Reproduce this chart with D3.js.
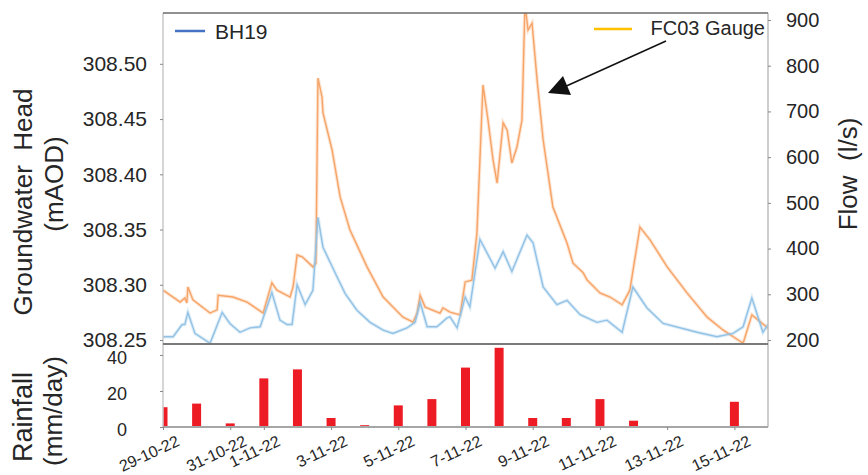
<!DOCTYPE html>
<html>
<head>
<meta charset="utf-8">
<script src="https://cdn.jsdelivr.net/npm/d3@7"></script>
<style>
  body { margin: 0; background: #fff; }
  svg text { font-family: "Liberation Sans", Arial, sans-serif; fill: #262626; }
</style>
</head>
<body>
<svg id="chart" width="868" height="475"></svg>
<script>
// days since 29-10-22 00:00 and head (mAOD) for BH19
var bhDay = [0, 0.30, 0.57, 0.65, 0.74, 0.95, 1.40, 1.76, 1.99, 2.29, 2.59, 2.89, 3.24, 3.48, 3.69, 3.84, 3.99, 4.23, 4.46, 4.61, 4.76, 5.18, 5.42, 5.77, 6.16, 6.55, 6.84, 7.26, 7.50, 7.65, 7.86, 8.15, 8.45, 8.54, 8.75, 8.99, 9.13, 9.43, 9.88, 10.12, 10.38, 10.83, 11.01, 11.31, 11.72, 12.02, 12.41, 12.91, 13.21, 13.66, 13.98, 14.40, 14.88, 15.89, 16.48, 16.96, 17.26, 17.52, 17.85, 18.0];
var bhHead = [308.253, 308.253, 308.264, 308.264, 308.275, 308.256, 308.247, 308.275, 308.265, 308.257, 308.261, 308.262, 308.293, 308.268, 308.264, 308.264, 308.300, 308.282, 308.295, 308.361, 308.334, 308.307, 308.292, 308.277, 308.266, 308.259, 308.256, 308.261, 308.266, 308.284, 308.262, 308.262, 308.270, 308.271, 308.261, 308.289, 308.280, 308.341, 308.315, 308.330, 308.312, 308.345, 308.338, 308.298, 308.282, 308.286, 308.273, 308.266, 308.268, 308.257, 308.298, 308.279, 308.265, 308.257, 308.253, 308.256, 308.262, 308.288, 308.257, 308.264];

// days since 29-10-22 00:00 and flow (l/s) for FC03 Gauge
var fcDay = [0, 0.51, 0.65, 0.71, 0.74, 0.89, 1.40, 1.61, 1.64, 2.08, 2.50, 2.98, 3.24, 3.39, 3.78, 3.87, 3.99, 4.14, 4.46, 4.55, 4.61, 4.73, 4.76, 5.03, 5.27, 5.56, 6.07, 6.55, 7.14, 7.44, 7.56, 7.65, 7.80, 8.24, 8.33, 8.54, 8.84, 8.99, 9.19, 9.34, 9.52, 9.67, 9.82, 9.94, 10.12, 10.24, 10.38, 10.53, 10.68, 10.77, 10.86, 10.98, 11.13, 11.31, 11.60, 12.02, 12.20, 12.50, 12.62, 13.00, 13.30, 13.66, 13.89, 14.19, 14.49, 15.00, 15.59, 16.19, 16.66, 17.11, 17.26, 17.52, 18.0];
var fcFlow = [309, 283, 292, 281, 316, 288, 259, 266, 298, 294, 283, 259, 325, 309, 294, 316, 386, 382, 360, 368, 773, 732, 697, 616, 513, 441, 360, 294, 250, 239, 259, 298, 272, 259, 270, 261, 255, 327, 331, 434, 758, 681, 594, 543, 675, 659, 587, 622, 681, 935, 878, 893, 769, 638, 491, 412, 368, 347, 331, 303, 294, 277, 309, 447, 419, 360, 303, 250, 222, 200, 193, 255, 226];

// daily rainfall (mm/day)
var rainDates = ["29-10-22", "30-10-22", "31-10-22", "1-11-22", "2-11-22", "3-11-22", "4-11-22", "5-11-22", "6-11-22", "7-11-22", "8-11-22", "9-11-22", "10-11-22", "11-11-22", "12-11-22", "13-11-22", "14-11-22", "15-11-22", "16-11-22"];
var rainMm = [11, 13, 2, 27, 32, 5, 1, 12, 15.5, 33, 44, 5, 5, 15.5, 3.5, 0, 0.5, 14, 0.5];

var tickDates = ["29-10-22", "31-10-22", "1-11-22", "3-11-22", "5-11-22", "7-11-22", "9-11-22", "11-11-22", "13-11-22", "15-11-22"];
var headTicks = [308.25, 308.30, 308.35, 308.40, 308.45, 308.50];
var flowTicks = [200, 300, 400, 500, 600, 700, 800, 900];
var rainTicks = [0, 20, 40];

var parseDay = function(s) {
    var p = s.split("-");
    return new Date(Date.UTC(2000 + +p[2], +p[1] - 1, +p[0]));
};
var start = parseDay("29-10-22");
var fromDay = function(d) { return new Date(start.getTime() + d * 864e5); };

var left = 163, right = 768, top1 = 13, bot1 = 344, bot2 = 427;

var svg = d3.select("#chart");

var x = d3.scaleUtc()
    .domain([start, parseDay("16-11-22")])
    .range([left, right]);

var yHead = d3.scaleLinear().domain([308.2464, 308.546]).range([bot1, top1]);
var yFlow = d3.scaleLinear().domain([191.25, 915.3]).range([bot1, top1]);
var yRain = d3.scaleLinear().domain([0, 46.1]).range([bot2, bot1]);

svg.append("clipPath").attr("id", "clipTop")
    .append("rect")
    .attr("x", left).attr("y", top1)
    .attr("width", right - left).attr("height", bot1 - top1);

svg.append("clipPath").attr("id", "clipBot")
    .append("rect")
    .attr("x", left).attr("y", bot1)
    .attr("width", right - left).attr("height", bot2 - bot1);

// lines
var bhLine = d3.line()
    .x(function(d, i) { return x(fromDay(bhDay[i])); })
    .y(function(d) { return yHead(d); });

var fcLine = d3.line()
    .x(function(d, i) { return x(fromDay(fcDay[i])); })
    .y(function(d) { return yFlow(d); });

var plot = svg.append("g").attr("clip-path", "url(#clipTop)");

[[fcFlow, fcLine, "#f7a468"], [bhHead, bhLine, "#92c2e6"]].forEach(function(s) {
    plot.append("path")
        .datum(s[0])
        .attr("d", s[1])
        .attr("fill", "none")
        .attr("stroke", s[2])
        .attr("stroke-opacity", 0.3)
        .attr("stroke-width", 3.5);
    plot.append("path")
        .datum(s[0])
        .attr("d", s[1])
        .attr("fill", "none")
        .attr("stroke", s[2])
        .attr("stroke-width", 1.4);
});

// rainfall bars
svg.append("g").attr("clip-path", "url(#clipBot)")
    .selectAll("rect")
    .data(rainMm)
    .enter()
    .append("rect")
    .attr("x", function(d, i) { return x(parseDay(rainDates[i])) - 4.5; })
    .attr("width", 9)
    .attr("y", function(d) { return yRain(d); })
    .attr("height", function(d) { return bot2 - yRain(d); })
    .attr("fill", "#ed1c24");

// frames
svg.append("line").attr("x1", left).attr("x2", left).attr("y1", top1).attr("y2", bot2)
    .attr("stroke", "#c8c8c8").attr("stroke-width", 1.5);
svg.append("line").attr("x1", right).attr("x2", right).attr("y1", top1).attr("y2", bot2)
    .attr("stroke", "#bcbcbc").attr("stroke-width", 1.5);
svg.append("line").attr("x1", left).attr("x2", right).attr("y1", top1).attr("y2", top1)
    .attr("stroke", "#6b6b6b").attr("stroke-width", 1.5);
svg.append("line").attr("x1", left).attr("x2", right).attr("y1", bot1).attr("y2", bot1)
    .attr("stroke", "#7a7a7a").attr("stroke-width", 2);
svg.append("line").attr("x1", left).attr("x2", right).attr("y1", bot2).attr("y2", bot2)
    .attr("stroke", "#a6a6a6").attr("stroke-width", 2);

// axes
var axL = svg.append("g")
    .attr("transform", "translate(" + left + ",0)")
    .call(d3.axisLeft(yHead).tickValues(headTicks).tickFormat(d3.format(".2f")).tickSize(3).tickPadding(13));
axL.select(".domain").remove();
axL.selectAll("line").attr("stroke", "#888");
axL.selectAll("text").style("font-size", "21px").attr("fill", "#262626");

var axR = svg.append("g")
    .attr("transform", "translate(" + right + ",0)")
    .call(d3.axisRight(yFlow).tickValues(flowTicks).tickSize(3).tickPadding(15));
axR.select(".domain").remove();
axR.selectAll("line").attr("stroke", "#888");
axR.selectAll("text").style("font-size", "20px").attr("fill", "#262626");

var axRain = svg.append("g")
    .attr("transform", "translate(" + left + ",0)")
    .call(d3.axisLeft(yRain).tickValues(rainTicks).tickSize(3).tickPadding(33));
axRain.select(".domain").remove();
axRain.selectAll("line").attr("stroke", "#888");
axRain.selectAll("text").style("font-size", "18px").attr("fill", "#262626").attr("dy", "0.45em");

var axB = svg.append("g")
    .attr("transform", "translate(0," + bot2 + ")")
    .call(d3.axisBottom(x).tickValues(tickDates.map(parseDay)).tickSize(3)
        .tickFormat(function(d, i) { return tickDates[i]; }));
axB.select(".domain").remove();
axB.selectAll("line").attr("stroke", "#888");
axB.selectAll("text")
    .style("font-size", "16px")
    .attr("fill", "#262626")
    .attr("text-anchor", "end")
    .attr("dy", null)
    .attr("y", 0)
    .attr("transform", "translate(17,18) rotate(-25)");

// axis titles
function vTitle(txt, tx, ty, size) {
    svg.append("text")
        .attr("transform", "translate(" + tx + "," + ty + ") rotate(-90)")
        .attr("text-anchor", "middle")
        .style("font-size", size + "px")
        .style("white-space", "pre")
        .text(txt);
}
vTitle("Groundwater  Head", 32, 202, 26);
vTitle("(mAOD)", 63, 184, 26);
vTitle("Flow  (l/s)", 857, 174, 26);
vTitle("Rainfall", 32, 417, 27);
vTitle("(mm/day)", 62, 411, 26);

// legend
svg.append("line").attr("x1", 175).attr("x2", 205).attr("y1", 31).attr("y2", 31)
    .attr("stroke", "#4472c4").attr("stroke-width", 2.5);
svg.append("text").attr("x", 215).attr("y", 39).style("font-size", "21px").text("BH19");
svg.append("line").attr("x1", 594).attr("x2", 632).attr("y1", 29).attr("y2", 29)
    .attr("stroke", "#ffc000").attr("stroke-width", 2.5);
svg.append("text").attr("x", 765).attr("y", 35).attr("text-anchor", "end")
    .style("font-size", "20px").text("FC03 Gauge");

// arrow pointing at the FC03 peak
svg.append("line").attr("x1", 666).attr("y1", 41).attr("x2", 562).attr("y2", 88)
    .attr("stroke", "#111").attr("stroke-width", 1.5);
svg.append("path")
    .attr("d", "M548,93 L563,76 L571,95 Z")
    .attr("fill", "#111");
</script>
</body>
</html>
